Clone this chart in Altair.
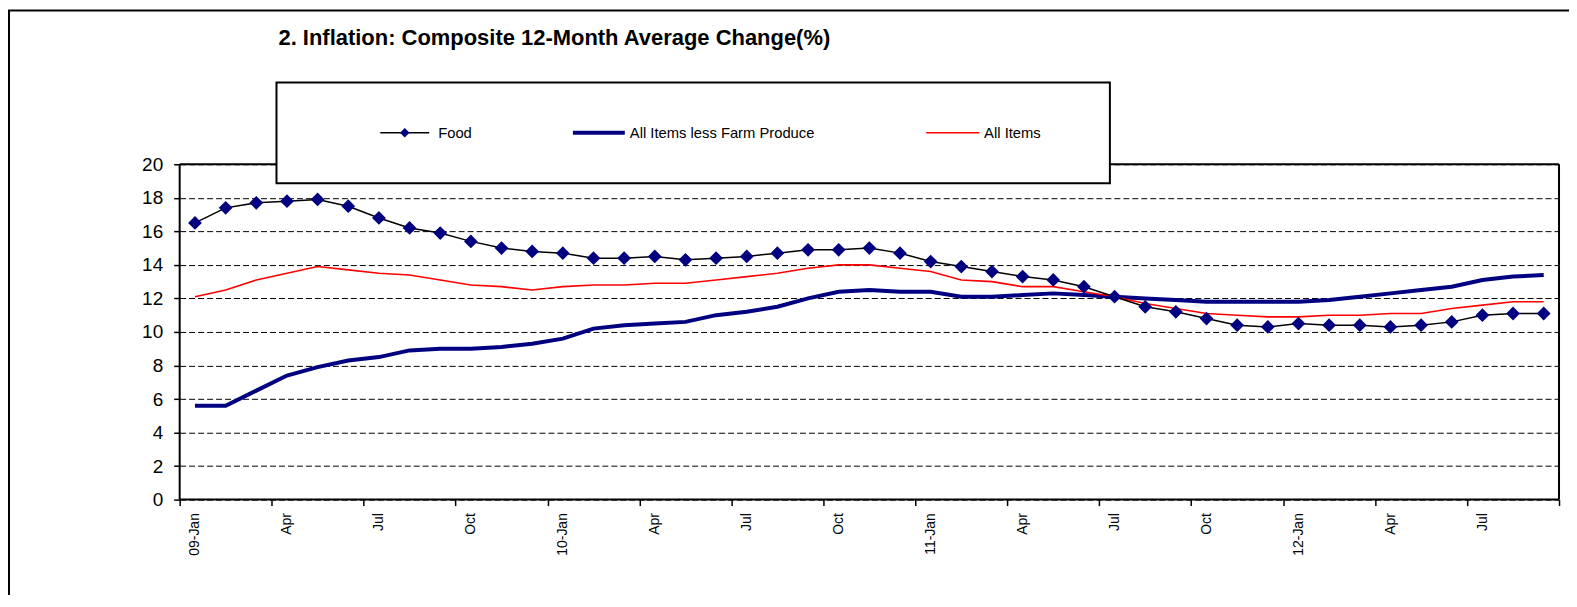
import json
import altair as alt
import pandas as pd

# ---- data ----
months = [
    "09-Jan", "Feb", "Mar", "Apr", "May", "Jun", "Jul", "Aug", "Sep", "Oct", "Nov", "Dec",
    "10-Jan", "Feb", "Mar", "Apr", "May", "Jun", "Jul", "Aug", "Sep", "Oct", "Nov", "Dec",
    "11-Jan", "Feb", "Mar", "Apr", "May", "Jun", "Jul", "Aug", "Sep", "Oct", "Nov", "Dec",
    "12-Jan", "Feb", "Mar", "Apr", "May", "Jun", "Jul", "Aug", "Sep",
]
food = [16.5, 17.4, 17.7, 17.8, 17.9, 17.5, 16.8, 16.2, 15.9, 15.4, 15.0, 14.8,
        14.7, 14.4, 14.4, 14.5, 14.3, 14.4, 14.5, 14.7, 14.9, 14.9, 15.0, 14.7,
        14.2, 13.9, 13.6, 13.3, 13.1, 12.7, 12.1, 11.5, 11.2, 10.8, 10.4, 10.3,
        10.5, 10.4, 10.4, 10.3, 10.4, 10.6, 11.0, 11.1, 11.1]
less_farm = [5.6, 5.6, 6.5, 7.4, 7.9, 8.3, 8.5, 8.9, 9.0, 9.0, 9.1, 9.3,
             9.6, 10.2, 10.4, 10.5, 10.6, 11.0, 11.2, 11.5, 12.0, 12.4, 12.5, 12.4,
             12.4, 12.1, 12.1, 12.2, 12.3, 12.2, 12.1, 12.0, 11.9, 11.8, 11.8, 11.8,
             11.8, 11.9, 12.1, 12.3, 12.5, 12.7, 13.1, 13.3, 13.4]
all_items = [12.1, 12.5, 13.1, 13.5, 13.9, 13.7, 13.5, 13.4, 13.1, 12.8, 12.7, 12.5,
             12.7, 12.8, 12.8, 12.9, 12.9, 13.1, 13.3, 13.5, 13.8, 14.0, 14.0, 13.8,
             13.6, 13.1, 13.0, 12.7, 12.7, 12.4, 12.1, 11.7, 11.4, 11.1, 11.0, 10.9,
             10.9, 11.0, 11.0, 11.1, 11.1, 11.4, 11.6, 11.8, 11.8]
series = ["Food", "All Items less Farm Produce", "All Items"]
title_text = "2. Inflation: Composite 12-Month Average Change(%)"
y_ticks = list(range(0, 21, 2))

df = pd.DataFrame({
    "i": list(range(len(months))),
    "month": months,
    "food": food,
    "less_farm": less_farm,
    "all_items": all_items,
})

W, H = 1382, 336
FONT = "Liberation Sans"
NAVY = "#000080"

xscale = alt.Scale(domain=[-0.5, len(months) - 0.5], nice=False, zero=False)
yscale = alt.Scale(domain=[0, 20], nice=False)

tick_axis = alt.Axis(orient="bottom", values=[v - 0.5 for v in range(0, len(months) + 1, 3)],
                     labels=False, ticks=True, tickSize=6, tickColor="black", tickWidth=1.5,
                     domain=False, grid=False, title=None)
label_axis = alt.Axis(orient="bottom", values=list(range(0, len(months), 3)),
                      labelExpr=json.dumps(months) + "[datum.value]",
                      labelAngle=-90, ticks=False, tickSize=0, domain=False, grid=False,
                      labelPadding=13, labelFontSize=14, labelFont=FONT, labelColor="black",
                      title=None)
y_axis = alt.Axis(values=y_ticks, grid=True, gridColor="black", gridDash=[6, 3], gridWidth=1,
                  domain=False, ticks=True, tickSize=6, tickColor="black", tickWidth=1.5,
                  labelFontSize=19, labelFont=FONT, labelColor="black", labelPadding=11,
                  title=None)

base = alt.Chart(df)
y_enc = lambda f: alt.Y(f, type="quantitative", scale=yscale, axis=y_axis)

blue = base.mark_line(color=NAVY, strokeWidth=4).encode(
    x=alt.X("i:Q", scale=xscale, axis=tick_axis), y=y_enc("less_farm"))
red = base.mark_line(color="#FF0000", strokeWidth=1.6).encode(
    x=alt.X("i:Q", scale=xscale, axis=label_axis), y=y_enc("all_items"))
food_line = base.mark_line(color="black", strokeWidth=1.5).encode(
    x=alt.X("i:Q", scale=xscale, axis=None), y=y_enc("food"))
food_pts = base.mark_point(shape="diamond", filled=True, size=190, color=NAVY, opacity=1).encode(
    x=alt.X("i:Q", scale=xscale, axis=None), y=y_enc("food"))

one = pd.DataFrame({"k": [0]})
# plot-area frame (drawn as rules so it sits above the grid)
frame_b = alt.Chart(one).mark_rule(color="black", strokeWidth=2).encode(
    x=alt.value(0), x2=alt.value(W), y=alt.value(H))
frame_l = alt.Chart(one).mark_rule(color="black", strokeWidth=2).encode(
    x=alt.value(0), y=alt.value(0), y2=alt.value(H))
frame_r = alt.Chart(one).mark_rule(color="black", strokeWidth=2).encode(
    x=alt.value(W), y=alt.value(0), y2=alt.value(H))
frame_t = alt.Chart(one).mark_rule(color="black", strokeWidth=2).encode(
    x=alt.value(0), x2=alt.value(W), y=alt.value(0))
# outer chart border (left & top)
border_l = alt.Chart(one).mark_rule(color="black", strokeWidth=2).encode(
    x=alt.value(-171), y=alt.value(-154), y2=alt.value(440))
border_t = alt.Chart(one).mark_rule(color="black", strokeWidth=2).encode(
    x=alt.value(-172), x2=alt.value(1400), y=alt.value(-154))

title = alt.Chart(pd.DataFrame({"t": [title_text]})).mark_text(
    align="left", baseline="alphabetic", font=FONT, fontSize=22, fontWeight="bold", color="black"
).encode(text="t:N", x=alt.value(99), y=alt.value(-119))

# legend box
leg_box = alt.Chart(one).mark_rect(fill="white", stroke="black", strokeWidth=2).encode(
    x=alt.value(97), x2=alt.value(932), y=alt.value(-82), y2=alt.value(19))
LY = -31.5
leg_food_line = alt.Chart(one).mark_rule(color="black", strokeWidth=1.5).encode(
    x=alt.value(201), x2=alt.value(250), y=alt.value(LY))
leg_food_pt = alt.Chart(one).mark_point(shape="diamond", filled=True, size=90, color=NAVY, opacity=1).encode(
    x=alt.value(225.5), y=alt.value(LY))
leg_blue_line = alt.Chart(one).mark_rule(color=NAVY, strokeWidth=4).encode(
    x=alt.value(394), x2=alt.value(446), y=alt.value(LY))
leg_red_line = alt.Chart(one).mark_rule(color="#FF0000", strokeWidth=1.6).encode(
    x=alt.value(748), x2=alt.value(801), y=alt.value(LY))

def leg_text(label, x):
    return alt.Chart(pd.DataFrame({"t": [label]})).mark_text(
        align="left", baseline="middle", font=FONT, fontSize=14.8, color="black"
    ).encode(text="t:N", x=alt.value(x), y=alt.value(LY + 1.5))

chart = alt.layer(
    frame_b, frame_l, frame_r, frame_t,
    blue, red, food_line, food_pts,
    border_l, border_t, title,
    leg_box, leg_food_line, leg_food_pt, leg_blue_line, leg_red_line,
    leg_text(series[0], 259), leg_text(series[1], 451), leg_text(series[2], 806),
).resolve_axis(x="independent").properties(
    width=W, height=H,
    padding={"left": 172, "top": 156, "right": 10, "bottom": 95},
    autosize=alt.AutoSizeParams(type="none"),
).configure(background="white").configure_view(stroke=None)

chart.save("out.html", embed_options={"renderer": "svg", "actions": False})
